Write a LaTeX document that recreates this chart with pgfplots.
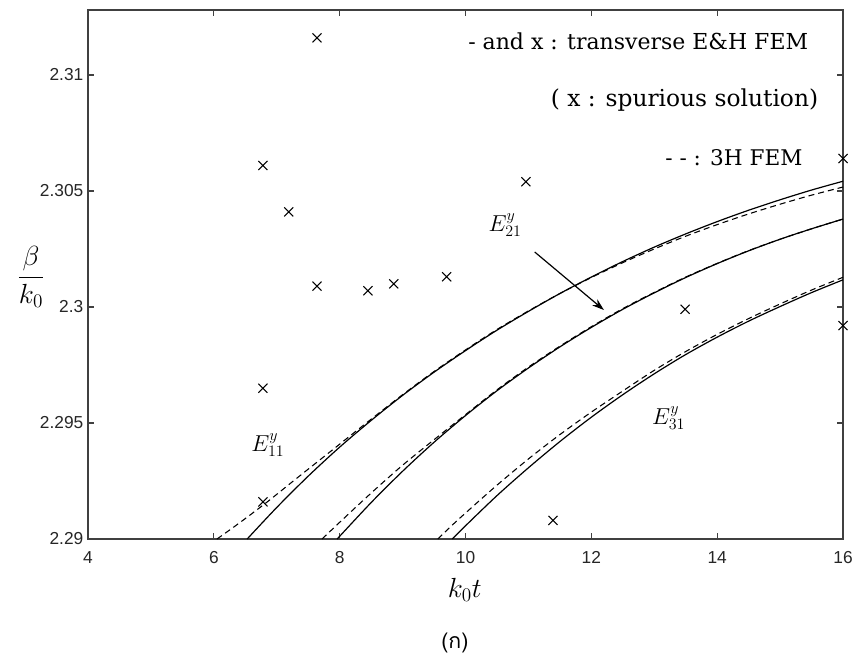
\documentclass[border=0pt]{standalone}
\usepackage{fontspec}
\usepackage{pgfplots}
\pgfplotsset{compat=1.18}
\usetikzlibrary{arrows.meta,calc}
\newfontfamily\arial{Liberation Sans}
\newfontfamily\dvs{DejaVu Serif}
\newfontfamily\thaifont[Script=Thai]{Loma}
\begin{document}
\begin{tikzpicture}
\begin{axis}[
  scale only axis, width=566.25pt, height=396.75pt,
  xmin=4, xmax=16, ymin=2.29, ymax=2.3128,
  xtick={4,6,8,10,12,14,16},
  ytick={2.29,2.295,2.3,2.305,2.31},
  yticklabels={2.29,2.295,2.3,2.305,2.31},
  tick align=inside, major tick length=4.5pt,
  ticklabel style={font=\arial\fontsize{13}{15}\selectfont, text=black!85},
  xticklabel style={yshift=-6pt},
  /pgf/number format/assume math mode=true,
  axis line style={line width=0.9pt, black!75},
  every tick/.style={black!75, line width=0.8pt},
  clip=false,
]
% E11 solid
\addplot[black, line width=0.9pt, smooth] coordinates {
(6.53,2.29000) (7.0,2.29136) (7.5,2.29271) (8.0,2.29396) (8.5,2.29511) (9.0,2.29619)
(9.5,2.29719) (10.0,2.29812) (10.5,2.29900) (11.0,2.29981) (11.5,2.30058) (12.0,2.30129)
(12.5,2.30196) (13.0,2.30258) (13.5,2.30315) (14.0,2.30368) (14.5,2.30417) (15.0,2.30462)
(15.5,2.30504) (16.0,2.30542)};
% E11 dashed
\addplot[black, line width=0.8pt, smooth, dash pattern=on 4.5pt off 3pt] coordinates {
(6.05,2.29000) (6.4,2.29068) (6.84,2.29158) (7.3,2.29258) (7.89,2.29385) (8.4,2.29495)
(9.0,2.29622) (9.5,2.29722) (10.0,2.29815) (10.5,2.29903) (11.0,2.29983) (11.5,2.30058)
(12.0,2.30127) (12.5,2.30191) (13.0,2.30250) (13.5,2.30305) (14.0,2.30355) (14.5,2.30401)
(15.0,2.30443) (15.5,2.30482) (16.0,2.30517)};
% E21 solid
\addplot[black, line width=0.9pt, smooth] coordinates {
(7.96,2.29000) (8.5,2.29157) (9.0,2.29292) (9.5,2.29417) (10.0,2.29532) (10.5,2.29639)
(11.0,2.29737) (11.5,2.29828) (12.0,2.29912) (12.5,2.29990) (13.0,2.30061) (13.5,2.30127)
(14.0,2.30187) (14.5,2.30242) (15.0,2.30292) (15.5,2.30337) (16.0,2.30379)};
% E21 dashed
\addplot[black, line width=0.8pt, smooth, dash pattern=on 4.5pt off 3pt] coordinates {
(7.72,2.29000) (8.0,2.29072) (8.5,2.29198) (9.0,2.29318) (9.5,2.29428) (10.0,2.29536)
(10.5,2.29643) (11.0,2.29741) (11.5,2.29831) (12.0,2.29915) (12.5,2.29993) (13.0,2.30063)
(13.5,2.30129) (14.0,2.30188) (14.5,2.30243) (15.0,2.30292) (15.5,2.30337) (16.0,2.30379)};
% E31 solid
\addplot[black, line width=0.9pt, smooth] coordinates {
(9.79,2.29000) (10.0,2.29057) (10.5,2.29187) (11.0,2.29307) (11.5,2.29420) (12.0,2.29525)
(12.5,2.29622) (13.0,2.29712) (13.5,2.29795) (14.0,2.29870) (14.5,2.29939) (15.0,2.30002)
(15.5,2.30062) (16.0,2.30117)};
% E31 dashed
\addplot[black, line width=0.8pt, smooth, dash pattern=on 4.5pt off 3pt] coordinates {
(9.56,2.29000) (9.79,2.29060) (10.0,2.29112) (10.5,2.29232) (11.0,2.29345) (11.5,2.29450)
(12.0,2.29547) (12.5,2.29638) (13.0,2.29727) (13.5,2.29808) (14.0,2.29882) (14.5,2.29950)
(15.0,2.30013) (15.5,2.30073) (16.0,2.30128)};
% spurious solutions
\addplot[only marks, mark=x, mark size=4.8pt, black, mark options={line width=0.8pt}] coordinates {
(7.64,2.3116) (6.78,2.3061) (7.19,2.3041) (7.64,2.3009) (8.45,2.3007) (8.86,2.3010)
(9.70,2.3013) (10.96,2.3054) (13.49,2.2999) (16,2.3064) (16,2.2992) (6.78,2.2965)
(6.78,2.2916) (11.39,2.2908)};

\node[anchor=east, font=\dvs\fontsize{16.5}{18}\selectfont] at (axis cs:15.52,2.31147) {- and x : transverse E\&H FEM};
\node[anchor=east, font=\dvs\fontsize{17.5}{19}\selectfont] at (axis cs:15.68,2.30892) {( x : spurious solution)};
\node[anchor=east, font=\dvs\fontsize{16.2}{18}\selectfont] at (axis cs:15.43,2.30642) {- - : 3H FEM};

\node[font=\fontsize{18}{20}\selectfont] at (axis cs:10.63,2.30353) {$E^y_{21}$};
\node[font=\fontsize{18}{20}\selectfont] at (axis cs:6.86,2.29405) {$E^y_{11}$};
\node[font=\fontsize{18}{20}\selectfont] at (axis cs:13.23,2.29522) {$E^y_{31}$};
\draw[black, line width=0.9pt, -{Stealth[length=9pt,width=6pt]}] (axis cs:11.10,2.30237) -- (axis cs:12.20,2.29987);

\node[font=\fontsize{20}{22}\selectfont] at (axis description cs:-0.0755,0.495) {$\displaystyle\frac{\beta}{k_0}$};
\node[font=\fontsize{20}{22}\selectfont] at (axis description cs:0.499,-0.0964) {$k_0t$};
\node[font=\thaifont\fontsize{16}{18}\selectfont] at (axis description cs:0.486,-0.1966) {(ก)};

\coordinate (sw) at (rel axis cs:0,0);
\coordinate (ne) at (rel axis cs:1,1);
\end{axis}
\pgfresetboundingbox
\path[use as bounding box] ($(sw)+(-66pt,-89.25pt)$) rectangle ($(ne)+(9pt,7.5pt)$);
\end{tikzpicture}
\end{document}
